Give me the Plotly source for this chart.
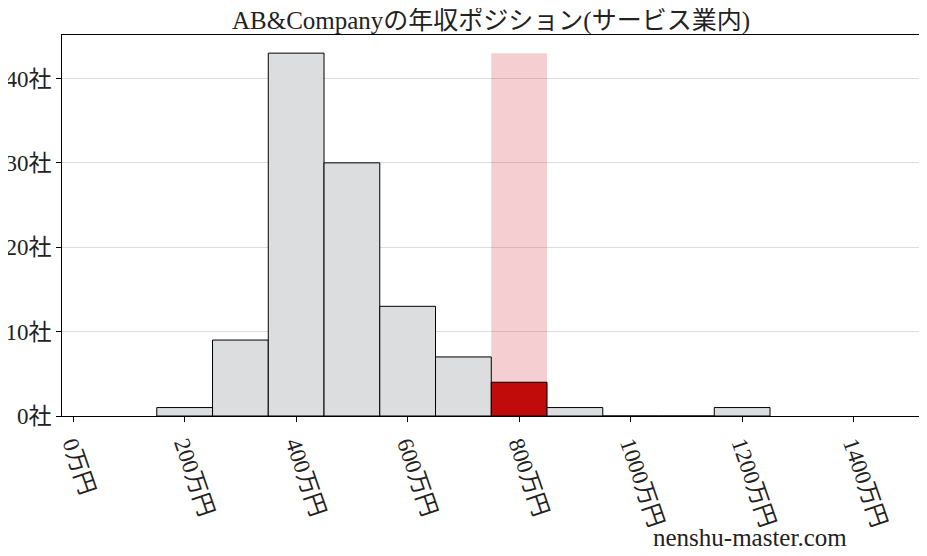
import plotly.graph_objects as go

# histogram bins (centre of each 100万円 bin) and company counts
bin_centers = [200, 300, 400, 500, 600, 700, 800, 900, 1000, 1100, 1200]
counts = [1, 9, 43, 30, 13, 7, 4, 1, 0, 0, 1]
highlight_bin = 800

x_ticks = [0, 200, 400, 600, 800, 1000, 1200, 1400]
x_ticktext = [f"{v}万円" for v in x_ticks]
y_ticks = [0, 10, 20, 30, 40]
y_ticktext = [f"{v}社" for v in y_ticks]

title = "AB&Companyの年収ポジション(サービス業内)"
watermark = "nenshu-master.com"

FONT = "Liberation Serif, DejaVu Serif, Noto Sans CJK JP, serif"

bar_colors = ["#c10a0a" if c == highlight_bin else "#dcdddf" for c in bin_centers]

fig = go.Figure()

# pink band behind the company's bin
fig.add_trace(go.Bar(
    x=[highlight_bin], y=[max(counts)], width=100,
    marker=dict(color="rgba(210,50,60,0.24)", line=dict(width=0)),
    hoverinfo="skip", showlegend=False,
))

fig.add_trace(go.Bar(
    x=bin_centers, y=counts, width=100,
    marker=dict(color=bar_colors, line=dict(color="black", width=1)),
    showlegend=False,
))

# page has an 8px body margin, so the figure is a bit smaller than the window
fig.update_layout(
    width=919, height=548,
    barmode="overlay",
    plot_bgcolor="white", paper_bgcolor="white",
    margin=dict(l=54, r=7, t=27, b=140),
    font=dict(family=FONT, size=23, color="#222222"),
    title=dict(text=title, x=0.5, xref="paper", xanchor="center",
               y=0.978, yanchor="middle", font=dict(size=25, color="#222222")),
    annotations=[dict(
        text=watermark, xref="paper", yref="paper", x=0.802, y=-0.318,
        xanchor="center", yanchor="middle", showarrow=False,
        font=dict(size=25, color="#222222"),
    )],
)

fig.update_xaxes(
    range=[-20, 1519], tickvals=x_ticks, ticktext=x_ticktext, tickangle=71,
    ticks="outside", ticklen=5, tickcolor="black", automargin=False,
    showline=True, linecolor="black", linewidth=1, mirror=True,
    showgrid=False, zeroline=False,
)
fig.update_yaxes(
    range=[0, 45.15], tickvals=y_ticks, ticktext=y_ticktext,
    ticks="outside", ticklen=5, tickcolor="black", automargin=False,
    showline=True, linecolor="black", linewidth=1, mirror=True,
    showgrid=True, gridcolor="#dddddd", gridwidth=1, zeroline=False,
)

fig.write_html("out.html")
